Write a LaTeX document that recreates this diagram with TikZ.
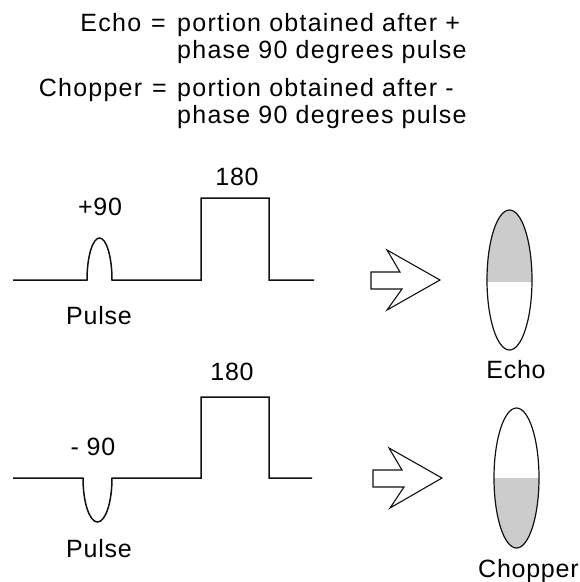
\documentclass[tikz,border=0pt]{standalone}
\usepackage{fontspec}
\setmainfont[LetterSpace=3]{Liberation Sans}
\newfontfamily\legendfont[LetterSpace=5]{Liberation Sans}
\usepackage{xcolor}
\usepackage{tikz}
\definecolor{nmrInk}{HTML}{111111}
\definecolor{nmrGrey}{HTML}{CCCCCC}

\begin{document}
\begin{tikzpicture}[x=1pt, y=-1pt,
  lbl/.style={font=\fontsize{25}{30}\selectfont, inner sep=0pt, anchor=base},
  legend/.style={font=\legendfont\fontsize{25}{30}\selectfont, inner sep=0pt},
  wave/.style={nmrInk, line width=1.5pt, line join=miter},
  hollow/.style={nmrInk, line width=1.1pt, fill=white, line join=miter},
  spin/.style={nmrInk, line width=1.2pt}]
  \useasboundingbox (0,0) rectangle (580,582);

  % legend
  \node[legend, anchor=base east] (echoKey) at (166,31.5) {Echo\hspace{10pt}=};
  \node[legend, anchor=base west] (echoDefA) at (177,31.5) {portion obtained after +};
  \node[legend, anchor=base west] (echoDefB) at (177,58.5) {phase 90 degrees pulse};
  \node[legend, anchor=base east] (chopKey) at (167,96.5) {Chopper\hspace{10pt}=};
  \node[legend, anchor=base west] (chopDefA) at (177,96.5) {portion obtained after -};
  \node[legend, anchor=base west] (chopDefB) at (177,123) {phase 90 degrees pulse};

  % +90 train
  \draw[wave] (13,280) -- (87,280)
    arc[start angle=180, end angle=360, x radius=12.5, y radius=42]
    -- (201,280) -- (201,198) -- (269,198) -- (269,280) -- (314,280);
  \node[lbl] (plusLbl) at (100,215) {+90};
  \node[lbl] (refocA) at (237,185) {180};
  \node[lbl] (pulseA) at (99,324) {Pulse};

  % -90 train
  \draw[wave] (13,478) -- (83,478)
    arc[start angle=180, end angle=0, x radius=14.5, y radius=44]
    -- (201,478) -- (201,397) -- (269,397) -- (269,478) -- (312,478);
  \node[lbl] (minusLbl) at (93,455) {- 90};
  \node[lbl] (refocB) at (232,380) {180};
  \node[lbl] (pulseB) at (99,557) {Pulse};

  % block arrows
  \draw[hollow] (371,272) -- (400,272) -- (387,250) -- (440,280)
    -- (387,310) -- (402,289) -- (371,289) -- cycle;
  \draw[hollow] (373,470) -- (402,470) -- (389,448) -- (442,478)
    -- (390,508) -- (404,487) -- (373,487) -- cycle;

  % echo spin
  \begin{scope}
    \clip (480,200) rectangle (540,281);
    \fill[nmrGrey] (509.5,280) ellipse[x radius=22.5, y radius=70];
  \end{scope}
  \draw[spin] (509.5,280) ellipse[x radius=22.5, y radius=70];
  \node[lbl] (echoLbl) at (516,378) {Echo};

  % chopper spin
  \begin{scope}
    \clip (485,478) rectangle (550,560);
    \fill[nmrGrey] (516.5,478) ellipse[x radius=22.5, y radius=70];
  \end{scope}
  \draw[spin] (516.5,478) ellipse[x radius=22.5, y radius=70];
  \node[lbl, anchor=base west] (chopLbl) at (478,577) {Chopper};
\end{tikzpicture}
\end{document}
